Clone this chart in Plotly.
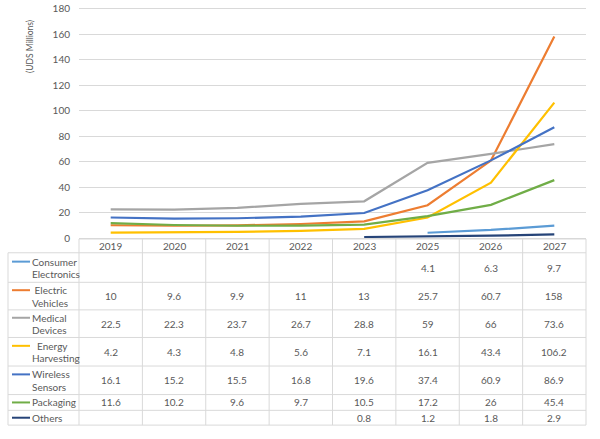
import plotly.graph_objects as go

years = ["2019", "2020", "2021", "2022", "2023", "2025", "2026", "2027"]
series_names = ["Consumer Electronics", "Electric Vehicles", "Medical Devices",
                "Energy Harvesting", "Wireless Sensors", "Packaging", "Others"]
label_lines = [["Consumer", "Electronics"], [" Electric", "Vehicles"], ["Medical", "Devices"],
               ["  Energy", "Harvesting"], ["Wireless", "Sensors"], ["Packaging"], ["Others"]]

consumer_electronics = [None, None, None, None, None, 4.1, 6.3, 9.7]
electric_vehicles = [10, 9.6, 9.9, 11, 13, 25.7, 60.7, 158]
medical_devices = [22.5, 22.3, 23.7, 26.7, 28.8, 59, 66, 73.6]
energy_harvesting = [4.2, 4.3, 4.8, 5.6, 7.1, 16.1, 43.4, 106.2]
wireless_sensors = [16.1, 15.2, 15.5, 16.8, 19.6, 37.4, 60.9, 86.9]
packaging = [11.6, 10.2, 9.6, 9.7, 10.5, 17.2, 26, 45.4]
others = [None, None, None, None, 0.8, 1.2, 1.8, 2.9]

values = [consumer_electronics, electric_vehicles, medical_devices, energy_harvesting,
          wireless_sensors, packaging, others]
colors = ["#5B9BD5", "#ED7D31", "#A5A5A5", "#FFC000", "#4472C4", "#70AD47", "#264478"]

W, H = 600, 439
L, R, B = 79, 586, 238
T180 = 5                      # pixel of the 180 gridline
SCALE = (B - T180) / 180.0    # px per unit
YMAX = 182
T = B - YMAX * SCALE          # top margin in px
FONT = "Lato"
TXT = "#595959"
BORDER = "#D9D9D9"


def px(p):
    return (p - L) / (R - L)


def py(p):
    return (B - p) / (B - T)


fig = go.Figure()
for name, vals, c in zip(series_names, values, colors):
    fig.add_trace(go.Scatter(x=years, y=vals, mode="lines", name=name,
                             line=dict(color=c, width=2.2)))

shapes = []
annotations = []

header_top, header_bot = 239, 253
row_bounds = [253, 283, 311, 339, 368, 397, 413, 428]
col_left = 8
n = len(years)


def colx(i):
    return (i + 0.5) / n


shapes.append(dict(type="line", xref="paper", yref="paper", x0=px(L), x1=px(R),
                   y0=py(header_top), y1=py(header_top), line=dict(color=BORDER, width=1)))
for yb in row_bounds:
    shapes.append(dict(type="line", xref="paper", yref="paper", x0=px(col_left), x1=px(R),
                       y0=py(yb), y1=py(yb), line=dict(color=BORDER, width=1)))
for i in range(n + 1):
    xp = i / n
    shapes.append(dict(type="line", xref="paper", yref="paper", x0=xp, x1=xp,
                       y0=py(header_top), y1=py(row_bounds[-1]), line=dict(color=BORDER, width=1)))
shapes.append(dict(type="line", xref="paper", yref="paper", x0=px(col_left), x1=px(col_left),
                   y0=py(header_bot), y1=py(row_bounds[-1]), line=dict(color=BORDER, width=1)))

for i, yr in enumerate(years):
    annotations.append(dict(x=colx(i), xref="paper", y=py((header_top + header_bot) / 2 + 0.5),
                            yref="paper", text=yr, showarrow=False,
                            font=dict(family=FONT, size=10, color=TXT),
                            xanchor="center", yanchor="middle"))

for r, (lines, vals, c) in enumerate(zip(label_lines, values, colors)):
    top, bot = row_bounds[r], row_bounds[r + 1]
    mid = (top + bot) / 2
    ys = [mid - 6, mid + 6.5] if len(lines) == 2 else [mid]
    shapes.append(dict(type="line", xref="paper", yref="paper", x0=px(12), x1=px(30),
                       y0=py(ys[0]), y1=py(ys[0]), line=dict(color=c, width=2)))
    for t, yy in zip(lines, ys):
        annotations.append(dict(x=px(30), xref="paper", y=py(yy), yref="paper",
                                text=t.replace(" ", "&nbsp;"), showarrow=False,
                                font=dict(family=FONT, size=10, color=TXT),
                                xanchor="left", yanchor="middle"))
    for i, v in enumerate(vals):
        if v is None:
            continue
        annotations.append(dict(x=colx(i), xref="paper", y=py(mid), yref="paper",
                                text=f"{v:g}", showarrow=False,
                                font=dict(family=FONT, size=10, color=TXT),
                                xanchor="center", yanchor="middle"))

annotations.append(dict(x=px(30), xref="paper", y=py(44), yref="paper", text="(UDS Millions)",
                        textangle=-90, showarrow=False, font=dict(family=FONT, size=8.5, color=TXT),
                        xanchor="center", yanchor="middle"))

fig.update_layout(
    width=W, height=H,
    margin=dict(l=L, r=W - R, t=T, b=H - B, pad=0),
    paper_bgcolor="white", plot_bgcolor="white",
    showlegend=False,
    shapes=shapes, annotations=annotations,
    font=dict(family=FONT, color=TXT),
)
fig.update_xaxes(type="category", range=[-0.5, n - 0.5], showticklabels=False,
                 showgrid=False, showline=True, linecolor=BORDER, linewidth=1, ticks="",
                 zeroline=False)
fig.update_yaxes(range=[0, YMAX], dtick=20, showgrid=True, gridcolor=BORDER, gridwidth=1,
                 zeroline=False, showline=False, ticks="", ticklabelstandoff=8,
                 ticklabeloverflow="allow",
                 tickfont=dict(family=FONT, size=10, color=TXT))

fig.write_html("out.html", config={"displayModeBar": False},
               post_script="document.body.style.margin='0';")
